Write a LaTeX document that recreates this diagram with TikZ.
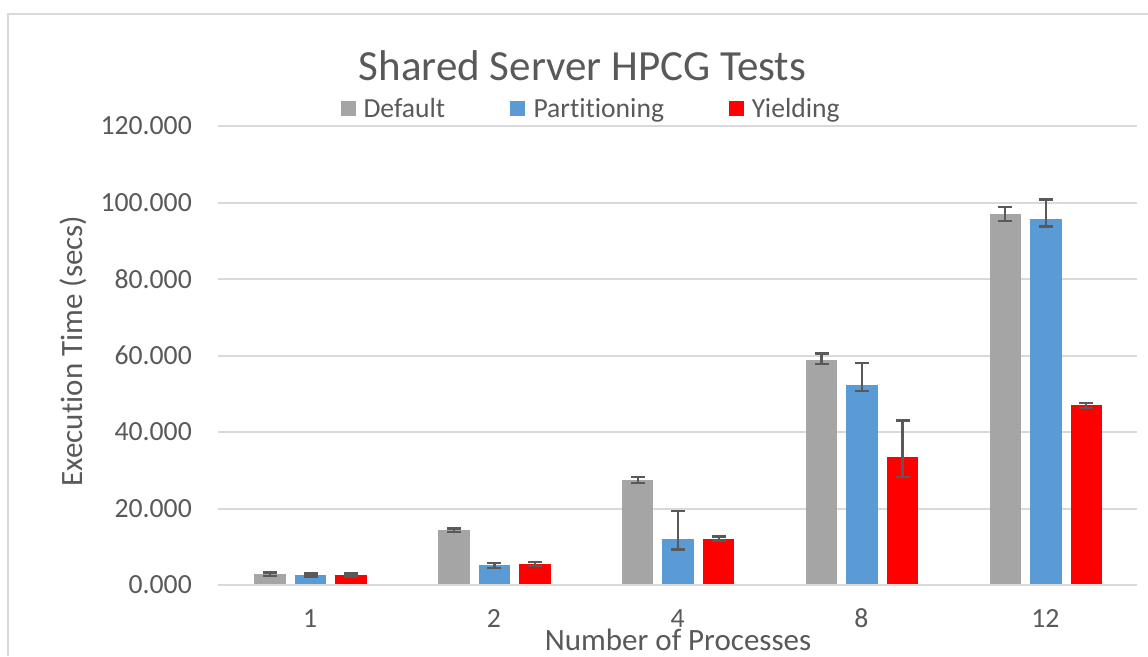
\documentclass[tikz,border=0pt]{standalone}
\usepackage{fontspec}
\setmainfont[Ligatures={NoCommon,NoContextual},RawFeature={-liga;-clig;-calt}]{Carlito}
\definecolor{txtgray}{HTML}{595959}
\definecolor{gridgray}{HTML}{D9D9D9}
\definecolor{defgray}{HTML}{A5A5A5}
\definecolor{partblue}{HTML}{5B9BD5}
\definecolor{yieldred}{HTML}{FF0000}
\definecolor{errgray}{HTML}{595959}

% one bar with its error bar: #1 x centre, #2 colour, #3 value, #4 low, #5 high
\newcommand{\hpcgbar}[5]{%
  \fill[#2] ({#1-15.75},584) rectangle ({#1+15.75},{585-3.825*#3});
  \draw[errbar] (#1,{585-3.825*#4}) -- (#1,{585-3.825*#5});
  \draw[errbar] ({#1-7},{585-3.825*#4}) -- ({#1+7},{585-3.825*#4});
  \draw[errbar] ({#1-7},{585-3.825*#5}) -- ({#1+7},{585-3.825*#5});
}

\begin{document}
\begin{tikzpicture}[x=1pt,y=-1pt,
  grid/.style={gridgray,line width=2pt},
  errbar/.style={errgray,line width=2.3pt},
  ticklab/.style={text=txtgray,font=\fontsize{27.7}{32}\selectfont,inner sep=0pt},
  leglab/.style={text=txtgray,font=\fontsize{27.6}{32}\selectfont,inner sep=0pt,anchor=base west},
  legsq/.style={minimum size=15pt,inner sep=0pt,draw=none},
  axtitle/.style={text=txtgray,font=\fontsize{31}{36}\selectfont,inner sep=0pt}]
\useasboundingbox (0,0) rectangle (1148,656);
\fill[white] (0,0) rectangle (1148,656);

% chart frame
\draw[grid] (8,656) -- (8,14) -- (1148,14);

% title and legend
\node[text=txtgray,font=\fontsize{43}{50}\selectfont,inner sep=0pt,anchor=base] (title) at (582.5,80) {Shared Server HPCG Tests};
\node[legsq,fill=defgray] (sqdef) at (348.3,108.5) {};
\node[leglab] (ldef) at (363.3,117) {Default};
\node[legsq,fill=partblue] (sqpart) at (517,108.5) {};
\node[leglab] (lpart) at (533.3,117) {Partitioning};
\node[legsq,fill=yieldred] (sqyield) at (736.8,108.5) {};
\node[leglab] (lyield) at (751.7,117) {Yielding};

% gridlines and value labels
\foreach \v [count=\i] in {0,20,40,60,80,100,120} {
  \draw[grid] (218,{585-3.825*\v}) -- (1137,{585-3.825*\v});
  \node[ticklab,anchor=east] (tick\i) at (192,{585-3.825*\v}) {\v.000};
}

% bars
\hpcgbar{270.1}{defgray}{2.8}{2.3}{3.3}
\hpcgbar{310.6}{partblue}{2.6}{2.2}{3.0}
\hpcgbar{351.1}{yieldred}{2.6}{2.2}{3.0}

\hpcgbar{453.9}{defgray}{14.3}{13.8}{14.8}
\hpcgbar{494.4}{partblue}{5.2}{4.5}{5.8}
\hpcgbar{534.9}{yieldred}{5.5}{5.0}{6.1}

\hpcgbar{637.7}{defgray}{27.5}{26.6}{28.3}
\hpcgbar{678.2}{partblue}{12.1}{9.3}{19.3}
\hpcgbar{718.7}{yieldred}{12.1}{11.6}{12.7}

\hpcgbar{821.5}{defgray}{58.8}{57.7}{60.5}
\hpcgbar{862.0}{partblue}{52.4}{50.7}{58.0}
\hpcgbar{902.5}{yieldred}{33.5}{28.3}{43.0}

\hpcgbar{1005.3}{defgray}{97.1}{95.2}{98.8}
\hpcgbar{1045.8}{partblue}{95.7}{93.7}{100.8}
\hpcgbar{1086.3}{yieldred}{47.0}{46.2}{47.6}

% category labels
\foreach \c/\lab in {0/1,1/2,2/4,3/8,4/12}
  \node[ticklab] (cat\lab) at ({310.1+183.8*\c},618.5) {\lab};

% axis titles
\node[axtitle,anchor=base] (xtitle) at (678,650) {Number of Processes};
\node[axtitle,rotate=90] (ytitle) at (73,351) {Execution Time (secs)};
\end{tikzpicture}
\end{document}
